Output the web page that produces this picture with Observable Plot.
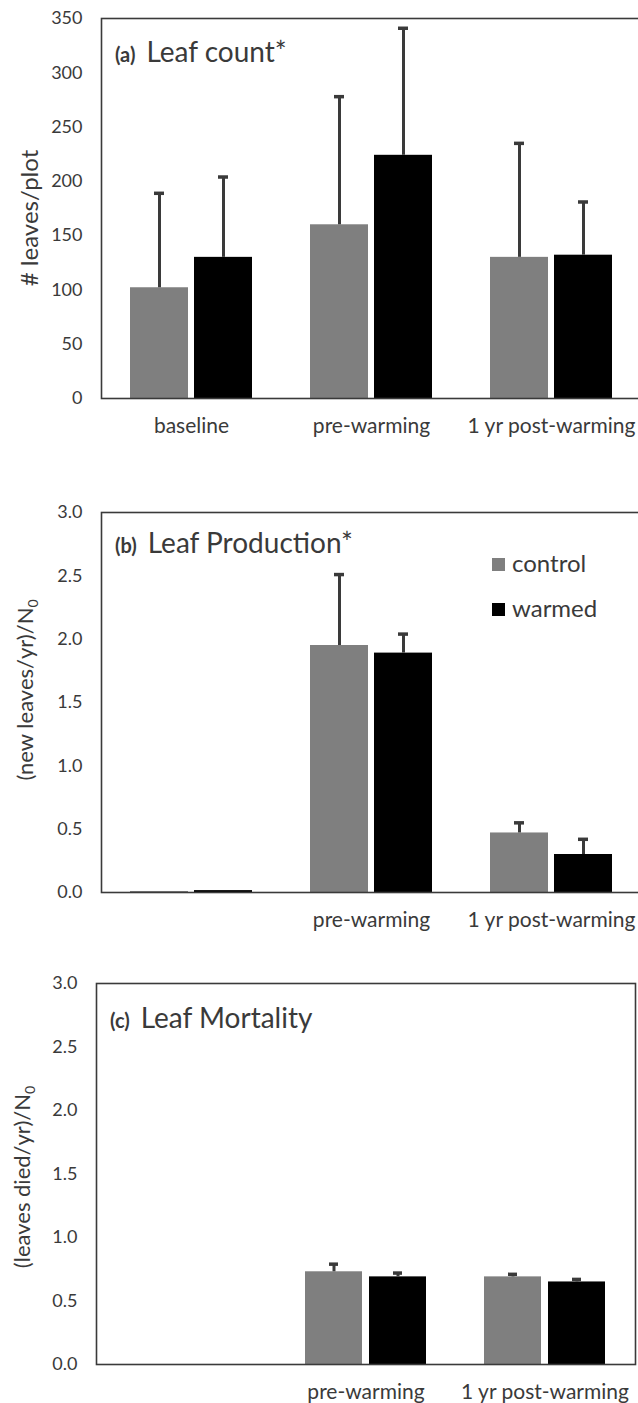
<!DOCTYPE html>
<html><head><meta charset="utf-8">
<script src="https://cdn.jsdelivr.net/npm/d3@7"></script>
<script src="https://cdn.jsdelivr.net/npm/@observablehq/plot@0.6"></script>
<style>
html,body{margin:0;padding:0;overflow:hidden;background:#fff;}
#chart svg{display:block;}
</style></head><body><div id="chart"></div>
<script>
// ---- data ----
const periods = ["baseline", "pre-warming", "1 yr post-warming"];
const treatments = ["control", "warmed"];

const countControl   = [102, 160, 130];
const countControlSE = [87, 118, 105];
const countWarmed    = [130, 224, 132];
const countWarmedSE  = [74, 117, 49];

const prodControl   = [0.008, 1.95, 0.47];
const prodControlSE = [0, 0.56, 0.08];
const prodWarmed    = [0.015, 1.89, 0.30];
const prodWarmedSE  = [0, 0.15, 0.12];

const mortControl   = [null, 0.73, 0.69];
const mortControlSE = [null, 0.06, 0.02];
const mortWarmed    = [null, 0.69, 0.65];
const mortWarmedSE  = [null, 0.03, 0.02];

const countTicks = [0, 50, 100, 150, 200, 250, 300, 350];
const rateTicks = [0, 0.5, 1, 1.5, 2, 2.5, 3];

const colors = {control: "#7f7f7f", warmed: "#000000"};
const ink = "#3a3a3a";
const FONT = "Lato, 'Open Sans', sans-serif";

function rows(ctrl, ctrlSE, warm, warmSE) {
  const out = [];
  periods.forEach((p, i) => {
    if (ctrl[i] != null) out.push({period: p, treatment: "control", value: ctrl[i], se: ctrlSE[i]});
    if (warm[i] != null) out.push({period: p, treatment: "warmed", value: warm[i], se: warmSE[i]});
  });
  return out;
}

function panel({data, domain, ticks, fmt, width, height, mt, mb, ml, mr, showBaseline}) {
  const ctrl = data.filter(d => d.treatment === "control");
  const warm = data.filter(d => d.treatment === "warmed");
  const errC = ctrl.filter(d => d.se > 0);
  const errW = warm.filter(d => d.se > 0);
  const marks = [
    Plot.barY(ctrl, {x: "period", y: "value", fill: colors.control, insetLeft: 29, insetRight: 93}),
    Plot.barY(warm, {x: "period", y: "value", fill: colors.warmed, insetLeft: 93, insetRight: 29}),
    Plot.ruleX(errC, {x: "period", y1: "value", y2: d => d.value + d.se, dx: -32, stroke: ink, strokeWidth: 3}),
    Plot.ruleX(errW, {x: "period", y1: "value", y2: d => d.value + d.se, dx: 32, stroke: ink, strokeWidth: 3}),
    Plot.tickY(errC, {x: "period", y: d => d.value + d.se, insetLeft: 53, insetRight: 117, stroke: ink, strokeWidth: 3.5}),
    Plot.tickY(errW, {x: "period", y: d => d.value + d.se, insetLeft: 117, insetRight: 53, stroke: ink, strokeWidth: 3.5}),
    Plot.frame({stroke: ink, strokeWidth: 1.6})
  ];
  return Plot.plot({
    width, height,
    marginTop: mt, marginBottom: mb, marginLeft: ml, marginRight: mr,
    style: {fontFamily: FONT, fontSize: "18px", color: ink, background: "#fff", maxWidth: "none", overflow: "visible"},
    x: {domain: periods, padding: 0, label: null, tickSize: 0, tickPadding: 20,
        tickFormat: d => (d === "baseline" && !showBaseline) ? "" : d},
    y: {domain, ticks, tickFormat: fmt, label: null, tickSize: 0, tickPadding: 19},
    marks
  });
}

const root = d3.select("#chart");

// Panel (a)
const svgA = panel({data: rows(countControl, countControlSE, countWarmed, countWarmedSE),
  domain: [0, 350], ticks: countTicks, fmt: d3.format("d"),
  width: 641, height: 450, mt: 18, mb: 52, ml: 101, mr: 0, showBaseline: true});
// Panel (b)
const svgB = panel({data: rows(prodControl, prodControlSE, prodWarmed, prodWarmedSE),
  domain: [0, 3], ticks: rateTicks, fmt: d3.format(".1f"),
  width: 641, height: 490, mt: 62, mb: 48, ml: 101, mr: 0, showBaseline: false});
// Panel (c)
const svgC = panel({data: rows(mortControl, mortControlSE, mortWarmed, mortWarmedSE),
  domain: [0, 3], ticks: rateTicks, fmt: d3.format(".1f"),
  width: 638, height: 463, mt: 43, mb: 39, ml: 96, mr: 3, showBaseline: false});

[svgA, svgB, svgC].forEach(svg => {
  d3.select(svg).selectAll('[aria-label^="x-axis"] text').attr("font-size", 21);
  d3.select(svg).selectAll('[aria-label^="y-axis"] text').attr("font-size", 18);
  root.node().appendChild(svg);
});

function title(svg, x, y, tag, name) {
  const t = d3.select(svg).append("text").attr("x", x).attr("y", y)
    .attr("text-anchor", "start").attr("fill", ink).attr("font-family", FONT);
  t.append("tspan").attr("font-weight", "bold").attr("font-size", 20).text(tag);
  t.append("tspan").attr("font-size", 28).attr("dx", 11).text(name);
}
function ytitle(svg, cx, cy, size, main, sub) {
  const t = d3.select(svg).append("text")
    .attr("transform", `translate(${cx},${cy}) rotate(-90)`)
    .attr("text-anchor", "middle").attr("dy", "0.35em")
    .attr("fill", ink).attr("font-family", FONT).attr("font-size", size);
  t.append("tspan").text(main);
  if (sub) t.append("tspan").attr("font-size", 14).attr("dy", 5).text(sub);
}

title(svgA, 115, 62, "(a)", "Leaf count*");
title(svgB, 115, 103, "(b)", "Leaf Production*");
title(svgC, 110, 88, "(c)", "Leaf Mortality");

ytitle(svgA, 30, 218, 24, "# leaves/plot");
ytitle(svgB, 25, 240, 22, "(new leaves/yr)/N", "0");
ytitle(svgC, 22, 237, 22, "(leaves died/yr)/N", "0");

// legend in panel (b)
const lg = d3.select(svgB).append("g").attr("font-family", FONT).attr("font-size", 24)
  .attr("fill", ink).attr("text-anchor", "start");
treatments.forEach((t, i) => {
  const y0 = 108 + i * 45;
  lg.append("rect").attr("x", 492).attr("y", y0).attr("width", 13).attr("height", 13).attr("fill", colors[t]);
  lg.append("text").attr("x", 512).attr("y", y0 + 14).text(t);
});
</script></body></html>
